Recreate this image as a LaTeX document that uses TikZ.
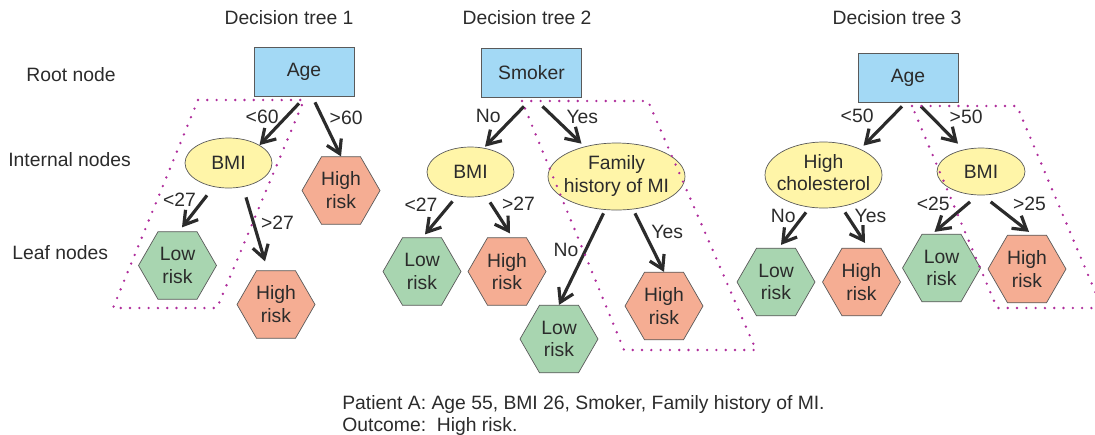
\documentclass[tikz,border=0pt]{standalone}
\usepackage{fontspec}
\setmainfont{Liberation Sans}
\usetikzlibrary{shapes.geometric, arrows.meta}

\definecolor{ink}{HTML}{2B2B2B}
\definecolor{edge}{HTML}{5A5A5A}
\definecolor{rootblue}{HTML}{A3D9F5}
\definecolor{splityellow}{HTML}{FFF5A8}
\definecolor{lowgreen}{HTML}{A8D5B0}
\definecolor{highred}{HTML}{F5AD93}
\definecolor{groupviolet}{RGB}{175,45,155}

\tikzstyle{root} = [rectangle, minimum width=2cm, minimum height=0.98cm, text centered, draw=edge, fill=rootblue]
\tikzstyle{split} = [ellipse, minimum width=1.74cm, minimum height=1cm, inner sep=0pt, text centered, draw=edge, fill=splityellow]
\tikzstyle{low} = [regular polygon, regular polygon sides=6, minimum size=1.56cm, inner sep=0pt, align=center, draw=edge, fill=lowgreen]
\tikzstyle{high} = [low, fill=highred]
\tikzstyle{branch} = [->, line width=1.8pt, draw=ink]
\tikzstyle{group} = [draw=groupviolet, line width=1.5pt, line cap=round, dash pattern=on 0pt off 0.186cm]
\tikzstyle{rowname} = [anchor=west, inner sep=0pt]

% two centred lines that do not widen the ellipse
\newcommand{\twolines}[2]{\makebox[0pt]{\begin{tabular}{@{}c@{}}#1\\#2\end{tabular}}}

\begin{document}
\begin{tikzpicture}[x=0.02cm, y=-0.02cm, font=\fontsize{11}{13}\selectfont, text=ink,
  >={Straight Barb[length=0.26cm,width=0.32cm]}]

\path[use as bounding box, clip] (0,0) rectangle (1095,434);

\node at (289,18) (head1) {Decision tree 1};
\node at (527,18) (head2) {Decision tree 2};
\node at (897,18) (head3) {Decision tree 3};

\node at (26,75) (rootrow) [rowname] {Root node};
\node at (8,160) (innerrow) [rowname] {Internal nodes};
\node at (12,253) (leafrow) [rowname] {Leaf nodes};

% tree 1
\node at (304,71.5) (age1) [root] {Age};
\node at (228.5,163) (bmi1) [split] {BMI};
\node at (341,190.5) (high1a) [high] {High\\risk};
\node at (177.5,265.5) (low1a) [low] {Low\\risk};
\node at (276,304.5) (high1b) [high] {High\\risk};

\draw[branch] ([shift={(-5,7)}]age1.south) -- node[pos=0.33, left] {<60} (bmi1.north east);
\draw[branch] ([shift={(11,6)}]age1.south) -- node[pos=0.28, right] {>60} (high1a.north);
\draw[branch] ([shift={(-21.5,7)}]bmi1.south) -- node[pos=0.15, left] {<27} ([shift={(4.5,-4)}]low1a.north);
\draw[branch] ([shift={(17.5,9)}]bmi1.south) -- node[pos=0.4, right] {>27} ([shift={(-11,-9)}]high1b.north);

% tree 2
\node at (531.5,72.5) (smoker2) [root] {Smoker};
\node at (470.5,172) (bmi2) [split] {BMI};
\node at (616.5,176.5) (family2) [split, minimum width=2.74cm, minimum height=1.34cm] {\twolines{Family}{history of MI}};
\node at (422,271.5) (low2a) [low] {Low\\risk};
\node at (507,271.5) (high2a) [high] {High\\risk};
\node at (559,339) (low2b) [low] {Low\\risk};
\node at (664,306) (high2b) [high] {High\\risk};

\draw[branch] ([shift={(-7.5,9)}]smoker2.south) -- node[pos=0.23, left=4pt] {No} ([shift={(14.5,0)}]bmi2.north);
\draw[branch] ([shift={(11,9)}]smoker2.south) -- node[pos=0.29, right=3pt] {Yes} ([shift={(-35,1)}]family2.north);
\draw[branch] ([shift={(-18,4)}]bmi2.south) -- node[pos=0.09, left=3pt] {<27} ([shift={(3,-3)}]low2a.north);
\draw[branch] ([shift={(19.5,5)}]bmi2.south) -- node[pos=0.06, right=2pt] {>27} ([shift={(3,-4)}]high2a.north);
\draw[branch] ([shift={(-13,3)}]family2.south) -- node[pos=0.4, left] {No} (low2b.north);
\draw[branch] ([shift={(18.5,3)}]family2.south) -- node[pos=0.31, right] {Yes} (high2b.north);

% tree 3
\node at (908,77.5) (age3) [root] {Age};
\node at (823.5,175) (chol3) [split, minimum width=2.34cm, minimum height=1.32cm] {\twolines{High}{cholesterol}};
\node at (981,171.5) (bmi3) [split, minimum width=1.76cm, minimum height=0.94cm] {BMI};
\node at (776,282) (low3a) [low] {Low\\risk};
\node at (861.5,282) (high3a) [high] {High\\risk};
\node at (941.5,268) (low3b) [low] {Low\\risk};
\node at (1027,269) (high3b) [high] {High\\risk};

\draw[branch] ([shift={(-6,4)}]age3.south) -- node[pos=0.25, left=6.5pt] {<50} ([shift={(40,4)}]chol3.north);
\draw[branch] ([shift={(13,4)}]age3.south) -- node[pos=0.29, right=6pt] {>50} ([shift={(-23,-4)}]bmi3.north);
\draw[branch] ([shift={(-17.5,4)}]chol3.south) -- node[pos=0.12, left] {No} ([shift={(5,-3)}]low3a.north);
\draw[branch] ([shift={(21.5,4)}]chol3.south) -- node[pos=0.11, right] {Yes} ([shift={(3.5,-5)}]high3a.north);
\draw[branch] ([shift={(-11,6.5)}]bmi3.south) -- node[pos=0.07, left=6pt] {<25} ([shift={(-7,-2)}]low3b.north);
\draw[branch] ([shift={(9.7,6.5)}]bmi3.south) -- node[pos=0.07, right=7pt] {>25} ([shift={(2,-3)}]high3b.north);

% dotted groups on top
\draw[group] (198,100) -- (304,100) -- (217,308) -- (113,308) -- cycle;
\draw[group] (522,101) -- (648,101) -- (756,350) -- (624,350) -- cycle;
\draw[group] (912,106) -- (1017,106) -- (1102,308) -- (997,308) -- cycle;

\node at (342,415.5) (patient) [rowname, align=left, font=\fontsize{11}{12.4}\selectfont] {Patient A: Age 55, BMI 26, Smoker, Family history of MI.\\Outcome:\ \ High risk.};

\end{tikzpicture}
\end{document}
